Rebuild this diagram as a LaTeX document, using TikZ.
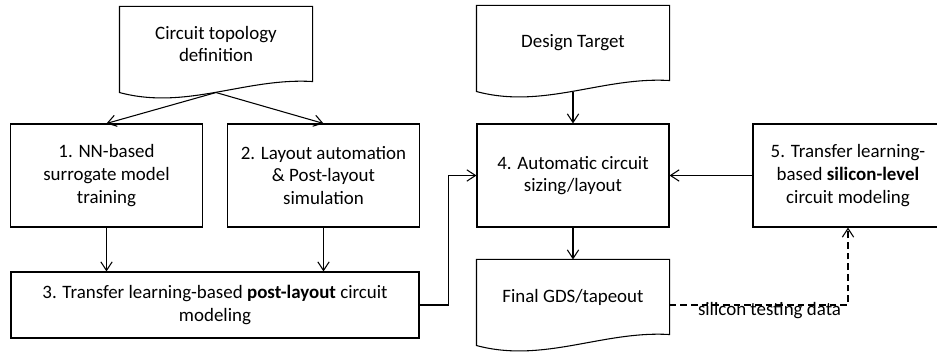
\documentclass[tikz,border=0pt]{standalone}
\usepackage{fontspec}
\setmainfont{Carlito}
\usetikzlibrary{arrows.meta,calc}

% document shape: box with a wavy bottom edge, plus an exit point in the middle of the wave
\newcommand{\docoutline}[1]{%
  \draw (#1.north west) -- (#1.north east) -- (#1.south east)
    .. controls +(-67,-4) and +(67,18) .. ($(#1.south west)+(0,11)$) -- cycle;
  \coordinate (#1-out) at ($(#1.south)+(0,11)$);
}

\begin{document}
\begin{tikzpicture}[x=0.75pt,y=-0.75pt,line width=0.8pt,
    >={Straight Barb[length=6.5pt,width=8.5pt]},
    every node/.style={font=\fontsize{14.2}{17}\selectfont,align=center}]
		\tikzstyle{proc}=[rectangle,draw,minimum width=144pt,
                  minimum height=77.25pt, inner sep=2pt]
		\tikzstyle{doc}=[rectangle,minimum width=144pt,
                  minimum height=55.5pt, inner sep=2pt]

    \useasboundingbox (0,0) rectangle (937,352);
    \clip (0,0) rectangle (937,352);

        % documents
    	\node[doc] (topo) at (216,44) {Circuit topology\\definition};
    	\node[doc] (target) at (573,43) {Design Target};
    	\node[doc] (gds) at (573,297) {Final GDS/tapeout};
    	\foreach \dname in {topo, target, gds}
    		\docoutline{\dname};

        % process steps
    	\node[proc] (nn) at (106.5,175.5) {1. NN-based\\surrogate model\\training};
    	\node[proc] (lay) at (323.5,175.5) {2. Layout automation\\\& Post-layout\\simulation};
    	\node[proc,minimum width=306pt,minimum height=49.5pt] (post) at (215,305)
    		{3. Transfer learning-based \textbf{post-layout} circuit\\modeling};
    	\node[proc] (sizing) at (573,175.5) {4. Automatic circuit\\sizing/layout};
    	\node[proc,minimum width=142.5pt] (si) at (848,175.5)
    		{5. Transfer learning-\\based \textbf{silicon-level}\\circuit modeling};

        % edges

        \foreach \bname in {nn, lay}
            \draw [->] (topo-out) -- (\bname.north);

        \foreach \bname in {nn, lay}
            \draw [->] (\bname) -- (\bname |- post.north);

        \draw [->] (post.east) -- ++(29,0) |- (sizing.west);
        \draw [->] (target-out) -- (sizing);
        \draw [->] (si) -- (sizing);
        \draw [->] (sizing) -- (gds);

        \draw [->,dash pattern=on 5pt off 3pt] ($(gds.east)+(0,8)$) -| (si.south)
            node[pos=0.28,below,inner sep=0pt,yshift=2.5pt] {silicon testing data};

\end{tikzpicture}
\end{document}
